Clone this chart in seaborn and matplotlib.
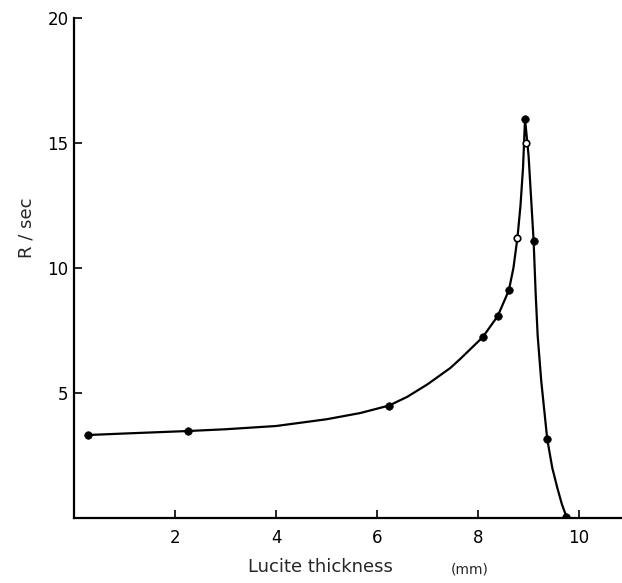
import matplotlib
matplotlib.use("Agg")
import matplotlib.pyplot as plt
import pandas as pd
import seaborn as sns

# measured points (Lucite thickness in mm, R per sec)
thick_filled = [0.28, 2.26, 6.24, 8.09, 8.39, 8.61, 8.93, 9.10, 9.37, 9.75]
rate_filled = [3.32, 3.48, 4.50, 7.23, 8.08, 9.11, 15.96, 11.09, 3.15, 0.05]
thick_open = [8.78, 8.95]
rate_open = [11.21, 14.99]

# smooth curve
curve_x = [0.28, 1.0, 2.26, 3.0, 4.0, 5.0, 5.67, 6.24, 6.6, 7.0, 7.45, 7.64,
           8.09, 8.39, 8.61, 8.70, 8.78, 8.84, 8.89, 8.93,
           9.00, 9.05, 9.10, 9.14, 9.18, 9.25, 9.37, 9.47, 9.57, 9.66, 9.75]
curve_y = [3.32, 3.38, 3.48, 3.55, 3.68, 3.95, 4.20, 4.50, 4.85, 5.35, 6.00, 6.35,
           7.23, 8.08, 9.11, 10.00, 11.21, 12.50, 14.00, 15.96,
           14.50, 12.80, 11.09, 9.00, 7.30, 5.50, 3.15, 2.00, 1.20, 0.55, 0.05]

x_ticks = [2, 4, 6, 8, 10]
y_ticks = [5, 10, 15, 20]

sns.set_style("ticks")
plt.rcParams["font.family"] = ["DejaVu Sans"]

fig = plt.figure(figsize=(6.22, 5.83), dpi=100)
ax = fig.add_axes([0.119, 0.1115, 0.881, 0.8575])

curve = pd.DataFrame({"x": curve_x, "y": curve_y})
sns.lineplot(data=curve, x="x", y="y", sort=False, color="black", lw=1.6, ax=ax)
for line in ax.get_lines():
    line.set_solid_joinstyle("round")

filled = pd.DataFrame({"x": thick_filled, "y": rate_filled})
sns.scatterplot(data=filled, x="x", y="y", color="black", s=30, edgecolor="black",
                zorder=3, ax=ax)
opened = pd.DataFrame({"x": thick_open, "y": rate_open})
sns.scatterplot(data=opened, x="x", y="y", color="white", s=22, edgecolor="black",
                linewidth=1.2, zorder=3, ax=ax)

ax.set_xlim(0, 10.85)
ax.set_ylim(0, 20)
ax.set_xticks(x_ticks)
ax.set_yticks(y_ticks)
ax.tick_params(direction="in", length=6, width=1.2, labelsize=12, colors="black")
ax.tick_params(axis="x", pad=8)
ax.tick_params(axis="y", pad=4)
sns.despine(ax=ax)
for side in ["left", "bottom"]:
    ax.spines[side].set_linewidth(1.6)
    ax.spines[side].set_color("black")
ax.set_xlabel("")
ax.set_ylabel("")

fig.text(0.515, 0.012, "Lucite thickness", fontsize=13, ha="center", va="bottom")
fig.text(0.755, 0.012, "(mm)", fontsize=10, ha="center", va="bottom")
fig.text(0.042, 0.61, "R / sec", fontsize=13, rotation=90, ha="center", va="center")

fig.savefig("out.png", dpi=100)
